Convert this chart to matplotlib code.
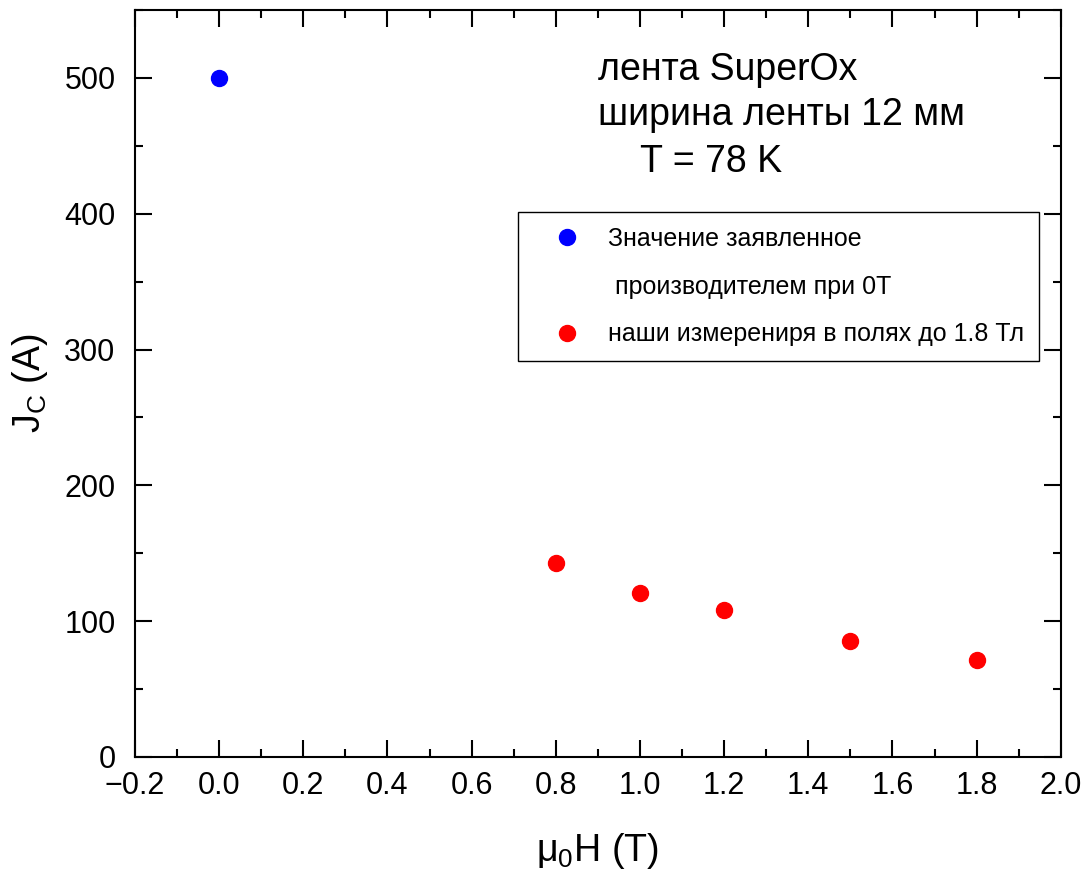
import matplotlib
matplotlib.use('Agg')
import matplotlib.pyplot as plt
from matplotlib.lines import Line2D
from matplotlib.ticker import MultipleLocator

plt.rcParams['font.family'] = ['Liberation Sans', 'DejaVu Sans']
plt.rcParams['mathtext.default'] = 'regular'

# data
field_maker = [0.0]
jc_maker = [500]
field_ours = [0.8, 1.0, 1.2, 1.5, 1.8]
jc_ours = [143, 121, 108, 85, 71]

label_maker_1 = 'Значение заявленное'
label_maker_2 = ' производителем при 0Т'
label_ours = 'наши измерениря в полях до 1.8 Тл'
note_lines = ['лента SuperOx', 'ширина ленты 12 мм', 'T = 78 K']

fig = plt.figure(figsize=(10.88, 8.72), dpi=100)
ax = fig.add_axes([0.124, 0.132, 0.851, 0.8565])

ax.plot(field_maker, jc_maker, 'o', color='#0000ff', markersize=11.5)
ax.plot(field_ours, jc_ours, 'o', color='#ff0000', markersize=11.5)

ax.set_xlim(-0.2, 2.0)
ax.set_ylim(0, 550)
ax.xaxis.set_major_locator(MultipleLocator(0.2))
ax.xaxis.set_minor_locator(MultipleLocator(0.1))
ax.yaxis.set_major_locator(MultipleLocator(100))
ax.yaxis.set_minor_locator(MultipleLocator(50))
ax.tick_params(which='both', direction='in', top=True, right=True, width=1.5)
ax.tick_params(which='major', length=12, labelsize=22)
ax.tick_params(axis='x', which='major', pad=10)
ax.tick_params(axis='y', which='major', pad=14)
ax.tick_params(which='minor', length=6)
for s in ax.spines.values():
    s.set_linewidth(1.5)

ax.set_xlabel('$\\mu_0$H (T)', fontsize=27, labelpad=22)
ax.set_ylabel('J$_C$ (A)', fontsize=27, labelpad=10)

ax.text(0.5, 0.9197, note_lines[0], transform=ax.transAxes, fontsize=27, va='center')
ax.text(0.5, 0.859, note_lines[1], transform=ax.transAxes, fontsize=27, va='center')
ax.text(0.545, 0.7965, note_lines[2], transform=ax.transAxes, fontsize=27, va='center')

handles = [
    Line2D([], [], linestyle='none', marker='o', color='#0000ff', markersize=11.5),
    Line2D([], [], linestyle='none'),
    Line2D([], [], linestyle='none', marker='o', color='#ff0000', markersize=11.5),
]
leg = ax.legend(handles, [label_maker_1, label_maker_2, label_ours],
                loc='upper left', bbox_to_anchor=(0.4136, 0.7296),
                borderaxespad=0, fontsize=18, fancybox=False,
                edgecolor='black', framealpha=1, labelspacing=0.95,
                handlelength=2.7, handletextpad=0.3, borderpad=0.6)
leg.get_frame().set_linewidth(1.0)

fig.savefig('out.png', dpi=100)
